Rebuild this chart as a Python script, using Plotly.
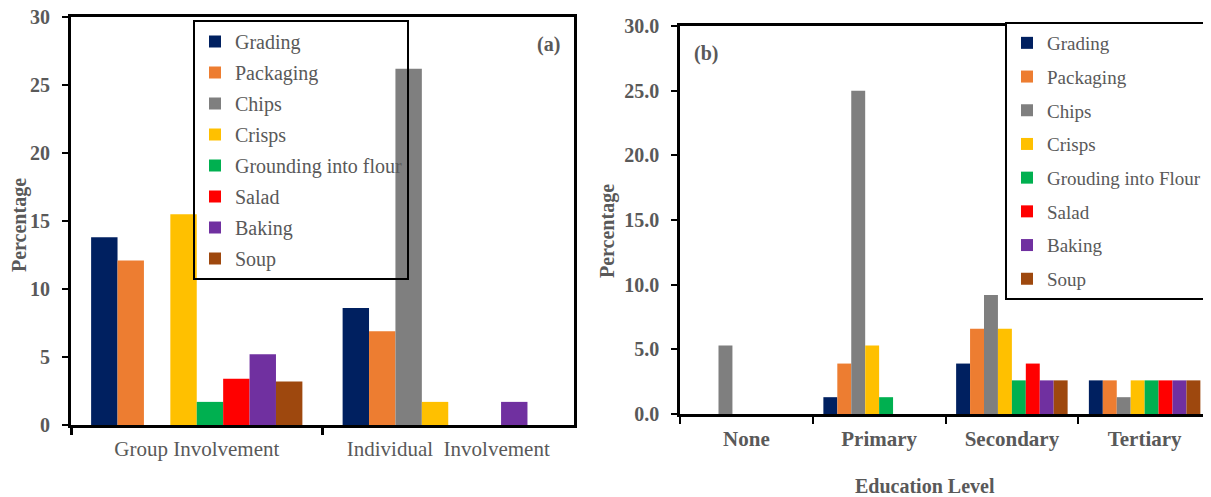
import plotly.graph_objects as go

# ---- data ----
series = ["Grading", "Packaging", "Chips", "Crisps", "Grounding into flour", "Salad", "Baking", "Soup"]
series_b = ["Grading", "Packaging", "Chips", "Crisps", "Grouding into Flour", "Salad", "Baking", "Soup"]
colors = ["#002060", "#ED7D31", "#7F7F7F", "#FFC000", "#00B050", "#FF0000", "#7030A0", "#9E480E"]

cats_a = ["Group Involvement", "Individual\u00a0 Involvement"]
vals_a = {
    "Grading": [13.8, 8.6],
    "Packaging": [12.1, 6.9],
    "Chips": [0, 26.2],
    "Crisps": [15.5, 1.7],
    "Grounding": [1.7, 0],
    "Salad": [3.4, 0],
    "Baking": [5.2, 1.7],
    "Soup": [3.2, 0],
}

cats_b = ["None", "Primary", "Secondary", "Tertiary"]
vals_b = {
    "Grading": [0, 1.3, 3.9, 2.6],
    "Packaging": [0, 3.9, 6.6, 2.6],
    "Chips": [5.3, 25.0, 9.2, 1.3],
    "Crisps": [0, 5.3, 6.6, 2.6],
    "Grounding": [0, 1.3, 2.6, 2.6],
    "Salad": [0, 0, 3.9, 2.6],
    "Baking": [0, 0, 2.6, 2.6],
    "Soup": [0, 0, 2.6, 2.6],
}

# page has an 8px body margin; figure is sized so it fills the window
OFF = 8
W, H = 1211 - OFF, 497 - OFF
FONT = "Liberation Serif"
GRAY = "#595959"

def px_x(p):
    return (p - OFF) / W

def px_y(p):
    return 1 - (p - OFF) / H

fig = go.Figure()
keys = list(vals_a.keys())
for i, k in enumerate(keys):
    fig.add_trace(go.Bar(
        x=cats_a, y=vals_a[k], name=series[i], marker=dict(color=colors[i], line=dict(width=0)),
        xaxis="x", yaxis="y", legend="legend", legendgroup="a%d" % i,
    ))
for i, k in enumerate(keys):
    fig.add_trace(go.Bar(
        x=cats_b, y=vals_b[k], name=series_b[i], marker=dict(color=colors[i], line=dict(width=0)),
        xaxis="x2", yaxis="y2", legend="legend2", legendgroup="b%d" % i,
    ))

common = dict(showgrid=False, zeroline=False, linecolor="black", ticks="outside", tickcolor="black")
# overlay axes only used to draw the inner half of the crossing tick marks
inner = dict(showgrid=False, zeroline=False, showline=False, ticks="inside", tickcolor="black",
             showticklabels=False)

XA = [px_x(71), px_x(574)]
YA = [px_y(425), px_y(17)]
XB = [px_x(680), px_x(1211)]
YB = [px_y(414), px_y(26)]

fig.update_layout(
    width=W, height=H,
    margin=dict(l=0, r=0, t=0, b=0, autoexpand=False),
    paper_bgcolor="white", plot_bgcolor="white",
    font=dict(family=FONT, color=GRAY, size=20),
    barmode="group", bargap=0.16, bargroupgap=0,
    xaxis=dict(domain=XA, anchor="y", tickson="boundaries",
               linewidth=3, mirror=True, tickwidth=3, ticklen=7, ticklabelstandoff=3,
               tickfont=dict(family=FONT, size=21, color=GRAY), **common),
    yaxis=dict(domain=YA, anchor="x", range=[0, 30], dtick=5,
               linewidth=3, mirror=True, tickwidth=2, ticklen=6, ticklabelstandoff=8,
               ticklabeloverflow="allow",
               tickfont=dict(family=FONT, size=20, color=GRAY, weight="bold"), **common),
    xaxis2=dict(domain=XB, anchor="y2", tickson="boundaries",
                linewidth=2.5, mirror=True, tickwidth=2, ticklen=7, ticklabelstandoff=4,
                tickfont=dict(family=FONT, size=21, color=GRAY, weight="bold"), **common),
    yaxis2=dict(domain=YB, anchor="x2", range=[0, 30], dtick=5,
                tickformat=".1f", linewidth=2.5, tickwidth=2, ticklen=6, ticklabelstandoff=8,
                ticklabeloverflow="allow",
                tickfont=dict(family=FONT, size=20, color=GRAY, weight="bold"), **common),
    xaxis3=dict(overlaying="x", anchor="y", domain=XA, type="linear",
                range=[-0.5, len(cats_a) - 0.5], tick0=0.5, dtick=1, ticklen=7, tickwidth=3, **inner),
    yaxis3=dict(overlaying="y", anchor="x", domain=YA, range=[0, 30], dtick=5,
                ticklen=6, tickwidth=2, **inner),
    xaxis4=dict(overlaying="x2", anchor="y2", domain=XB, type="linear",
                range=[-0.5, len(cats_b) - 0.5], tick0=0.5, dtick=1, ticklen=7, tickwidth=2, **inner),
    yaxis4=dict(overlaying="y2", anchor="x2", domain=YB, range=[0, 30], dtick=5,
                ticklen=6, tickwidth=2, **inner),
    legend=dict(x=px_x(193), y=px_y(20), xanchor="left", yanchor="top",
                bgcolor="rgba(255,255,255,0)", bordercolor="black", borderwidth=2,
                font=dict(family=FONT, size=20, color=GRAY), tracegroupgap=2, traceorder="grouped"),
    legend2=dict(x=px_x(1005), y=px_y(22), xanchor="left", yanchor="top",
                 bgcolor="white", bordercolor="black", borderwidth=2,
                 font=dict(family=FONT, size=19, color=GRAY), tracegroupgap=6, traceorder="grouped"),
    showlegend=True,
    annotations=[
        dict(text="<b>Percentage</b>", xref="paper", yref="paper", x=px_x(20), y=px_y(225),
             xanchor="center", yanchor="middle",
             textangle=-90, showarrow=False, font=dict(family=FONT, size=20, color=GRAY)),
        dict(text="<b>Percentage</b>", xref="paper", yref="paper", x=px_x(607), y=px_y(231),
             xanchor="center", yanchor="middle",
             textangle=-90, showarrow=False, font=dict(family=FONT, size=20, color=GRAY)),
        dict(text="<b>Education Level</b>", xref="paper", yref="paper", x=px_x(925), y=px_y(486),
             xanchor="center", yanchor="middle",
             showarrow=False, font=dict(family=FONT, size=20, color=GRAY)),
        dict(text="<b>(a)</b>", xref="paper", yref="paper", x=px_x(548), y=px_y(44),
             xanchor="center", yanchor="middle",
             showarrow=False, font=dict(family=FONT, size=20, color=GRAY)),
        dict(text="<b>(b)</b>", xref="paper", yref="paper", x=px_x(706), y=px_y(53),
             xanchor="center", yanchor="middle",
             showarrow=False, font=dict(family=FONT, size=20, color=GRAY)),
    ],
)

fig.write_html("out.html")
